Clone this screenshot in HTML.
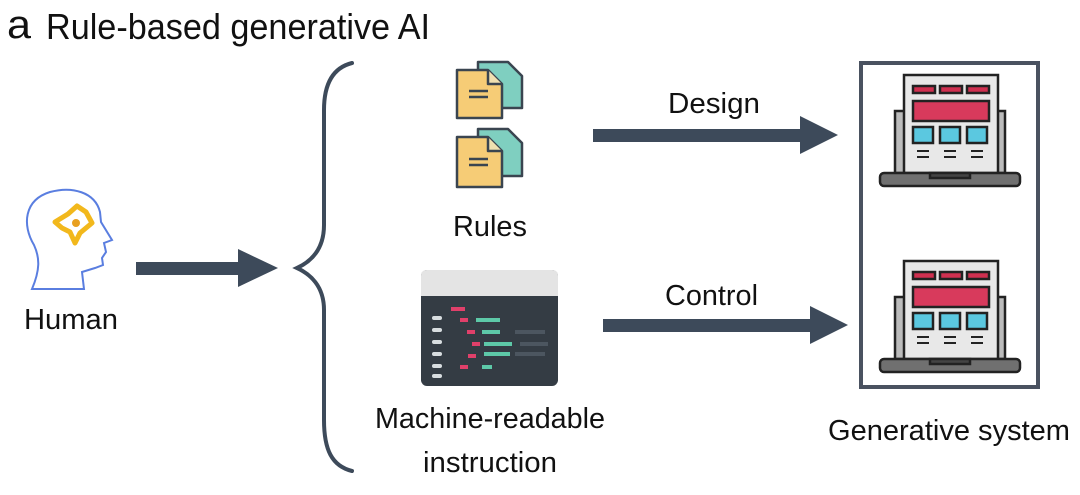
<!DOCTYPE html>
<html><head><meta charset="utf-8"><style>
html,body{margin:0;padding:0;background:#fff;width:1080px;height:495px;overflow:hidden}
svg{display:block}
text{font-family:"Liberation Sans",sans-serif;fill:#111}
</style></head><body>
<svg width="1080" height="495" viewBox="0 0 1080 495" xmlns="http://www.w3.org/2000/svg">
<text x="7" y="38" font-size="40" textLength="24" lengthAdjust="spacingAndGlyphs">a</text>
<text x="46" y="39" font-size="36" textLength="384" lengthAdjust="spacingAndGlyphs">Rule-based generative AI</text>

<!-- head -->
<path d="M32 289 C40 270 40 258 34 245 C22 225 24 200 50 192 C72 186 95 192 100 212 L101 222 L112 240 L104 243 L106 252 L102 258 L103 265 L95 268 L82 272 L84 289 Z" fill="none" stroke="#5a7ee0" stroke-width="2"/>
<path d="M55 222 L68 214 L77 206 L86 212 L92 223 L80 233 L75 243 L70 232 L62 228 Z" fill="none" stroke="#f2b81c" stroke-width="5" stroke-linejoin="round"/>
<circle cx="76" cy="223" r="4" fill="#e8a020"/>
<text x="24" y="329" font-size="29" textLength="94" lengthAdjust="spacingAndGlyphs">Human</text>

<!-- arrows -->
<g fill="#3d4a5a">
<rect x="136" y="262" width="104" height="13"/><polygon points="238,249 278,268 238,287"/>
<rect x="593" y="129" width="210" height="13"/><polygon points="800,116 838,135 800,154"/>
<rect x="603" y="319" width="210" height="13"/><polygon points="810,306 848,325 810,344"/>
</g>
<text x="668" y="113" font-size="29" textLength="92" lengthAdjust="spacingAndGlyphs">Design</text>
<text x="665" y="305" font-size="29" textLength="93" lengthAdjust="spacingAndGlyphs">Control</text>

<!-- brace -->
<path d="M352 63 C332 68 324 85 324 110 L324 225 C324 250 310 262 297 268 C310 274 324 286 324 310 L324 420 C324 450 332 466 352 471" fill="none" stroke="#3d4a5a" stroke-width="4" stroke-linecap="round"/>

<!-- docs -->
<g stroke="#3a4550" stroke-width="2.5" stroke-linejoin="round">
<path d="M478 62 L508 62 L522 76 L522 108 L478 108 Z" fill="#7fcfc0"/>
<path d="M457 70 L488 70 L502 84 L502 118 L457 118 Z" fill="#f6cc76"/>
<path d="M488 70 L488 84 L502 84" fill="#f0e0b0"/>
<line x1="469" y1="91" x2="488" y2="91"/><line x1="469" y1="97" x2="488" y2="97"/>
<path d="M478 129 L508 129 L522 143 L522 176 L478 176 Z" fill="#7fcfc0"/>
<path d="M457 137 L488 137 L502 151 L502 187 L457 187 Z" fill="#f6cc76"/>
<path d="M488 137 L488 151 L502 151" fill="#f0e0b0"/>
<line x1="469" y1="159" x2="488" y2="159"/><line x1="469" y1="165" x2="488" y2="165"/>
</g>
<text x="453" y="236" font-size="29" textLength="74" lengthAdjust="spacingAndGlyphs">Rules</text>

<!-- code panel -->
<rect x="421" y="270" width="137" height="116" rx="6" fill="#343c44"/>
<path d="M421 296 L421 276 Q421 270 427 270 L552 270 Q558 270 558 276 L558 296 Z" fill="#e4e4e4"/>
<g fill="#d8dde0"><rect x="432" y="316" width="10" height="4" rx="2"/><rect x="432" y="328" width="10" height="4" rx="2"/><rect x="432" y="340" width="10" height="4" rx="2"/><rect x="432" y="352" width="10" height="4" rx="2"/><rect x="432" y="364" width="10" height="4" rx="2"/><rect x="432" y="374" width="10" height="4" rx="2"/></g>
<g fill="#e0406a"><rect x="451" y="307" width="14" height="4"/><rect x="460" y="318" width="8" height="4"/><rect x="467" y="330" width="8" height="4"/><rect x="472" y="342" width="8" height="4"/><rect x="468" y="354" width="8" height="4"/><rect x="460" y="365" width="8" height="4"/></g>
<g fill="#5dc9a8"><rect x="476" y="318" width="24" height="4"/><rect x="482" y="330" width="18" height="4"/><rect x="484" y="342" width="28" height="4"/><rect x="484" y="352" width="26" height="4"/><rect x="482" y="365" width="10" height="4"/></g>
<g fill="#4c5660"><rect x="515" y="330" width="30" height="4"/><rect x="520" y="342" width="28" height="4"/><rect x="515" y="352" width="30" height="4"/></g>
<text x="375" y="428" font-size="29" textLength="230" lengthAdjust="spacingAndGlyphs">Machine-readable</text>
<text x="423" y="472" font-size="29" textLength="134" lengthAdjust="spacingAndGlyphs">instruction</text>

<!-- system box -->
<rect x="861" y="63" width="177" height="324" fill="none" stroke="#4a5260" stroke-width="4"/>
<g id="lap" stroke="#222" stroke-width="2.5">
<rect x="895" y="111" width="10" height="62" fill="#bbb"/><rect x="995" y="111" width="10" height="62" fill="#bbb"/>
<rect x="904" y="75" width="94" height="98" fill="#e8e8e8"/>
<rect x="913" y="86" width="22" height="7" fill="#d03050"/><rect x="940" y="86" width="22" height="7" fill="#d03050"/><rect x="967" y="86" width="22" height="7" fill="#d03050"/>
<rect x="913" y="101" width="76" height="20" fill="#d83a5c"/>
<rect x="913" y="127" width="20" height="16" fill="#5bc8e0"/><rect x="940" y="127" width="20" height="16" fill="#5bc8e0"/><rect x="967" y="127" width="20" height="16" fill="#5bc8e0"/>
<g stroke-width="2"><line x1="917" y1="151" x2="929" y2="151"/><line x1="917" y1="157" x2="929" y2="157"/><line x1="944" y1="151" x2="956" y2="151"/><line x1="944" y1="157" x2="956" y2="157"/><line x1="971" y1="151" x2="983" y2="151"/><line x1="971" y1="157" x2="983" y2="157"/></g>
<rect x="880" y="173" width="140" height="13" rx="4" fill="#707070"/>
<rect x="930" y="173" width="40" height="5" fill="#444"/>
</g>
<use href="#lap" transform="translate(0,186)"/>
<text x="828" y="440" font-size="29" textLength="242" lengthAdjust="spacingAndGlyphs">Generative system</text>
</svg>
</body></html>
